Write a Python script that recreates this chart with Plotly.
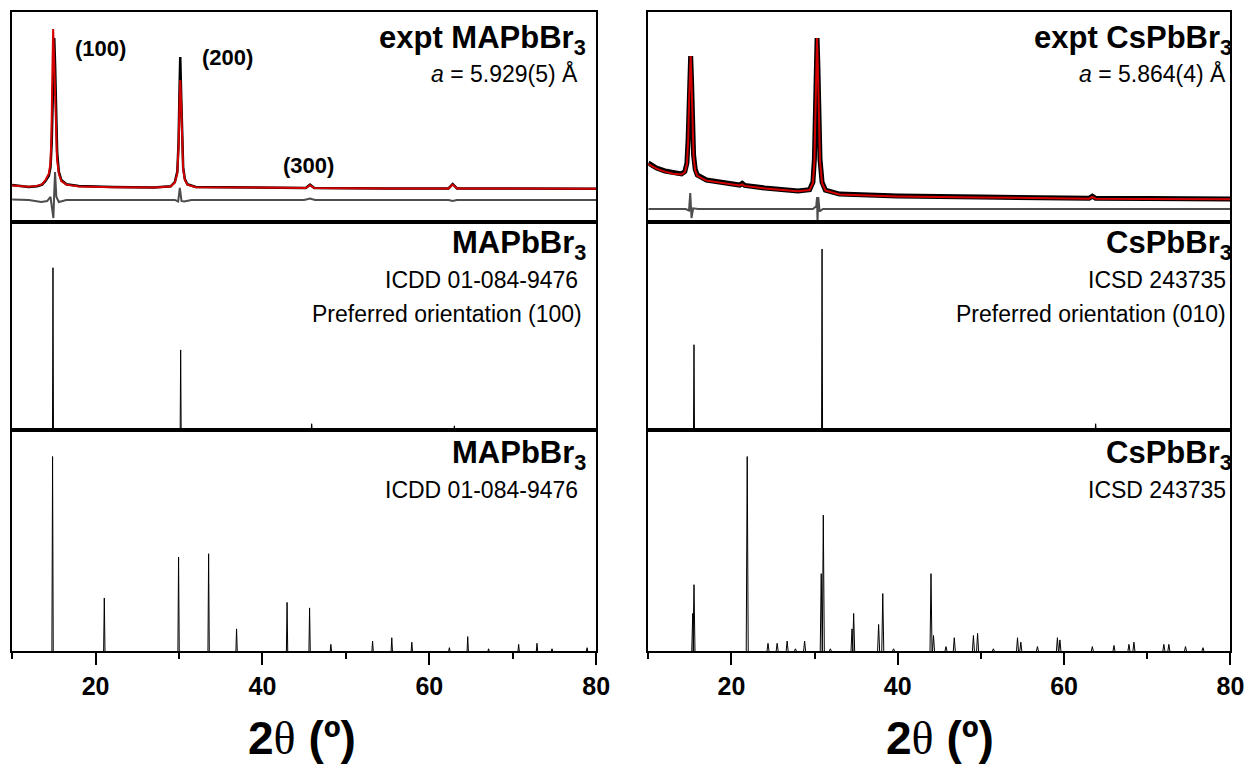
import plotly.graph_objects as go

# ---------------- data ----------------
# experimental MAPbBr3 (observed, calculated, difference)
mapb_obs_x = [10, 11, 12, 13, 13.6, 14.0, 14.4, 14.6, 14.75, 14.85, 14.95, 15.05, 15.15, 15.25, 15.4, 15.6, 15.9, 16.5, 18, 22, 27, 29, 29.5, 29.8, 29.95, 30.05, 30.15, 30.25, 30.35, 30.5, 30.7, 31.0, 32, 40, 45.2, 45.7, 46.2, 55, 62.3, 62.8, 63.3, 70, 80]
mapb_obs_y = [17.6, 17.1, 16.7, 17.0, 17.8, 19.5, 22.0, 26.0, 38.0, 55.0, 78.0, 87.6, 75.0, 52.0, 33.0, 24.0, 20.0, 18.0, 17.1, 16.7, 16.4, 17.0, 19.0, 24.0, 38.0, 60.0, 78.6, 62.0, 42.0, 26.0, 20.5, 18.0, 16.7, 16.2, 16.2, 17.8, 16.2, 16.0, 16.0, 18.1, 16.0, 16.0, 15.8]
mapb_calc_x = [10, 11, 12, 13, 13.6, 14.0, 14.4, 14.6, 14.72, 14.82, 14.92, 15.02, 15.12, 15.22, 15.38, 15.6, 15.9, 16.5, 18, 22, 27, 29, 29.5, 29.8, 29.95, 30.05, 30.15, 30.25, 30.35, 30.5, 30.7, 31.0, 32, 40, 45.2, 45.7, 46.2, 55, 62.3, 62.8, 63.3, 70, 80]
mapb_calc_y = [17.4, 17.0, 16.8, 17.2, 18.0, 20.0, 23.0, 28.0, 42.0, 70.0, 91.9, 80.0, 62.0, 45.0, 30.0, 23.0, 19.5, 17.8, 16.9, 16.6, 16.4, 16.9, 18.8, 23.0, 36.0, 55.0, 67.6, 58.0, 40.0, 25.0, 20.0, 17.8, 16.6, 16.2, 16.2, 17.5, 16.2, 16.0, 16.0, 17.8, 16.0, 16.0, 15.8]
mapb_diff_x = [10, 12, 13.5, 14.2, 14.6, 14.85, 14.95, 15.05, 15.15, 15.3, 15.6, 16.5, 20, 29.5, 29.9, 30.1, 30.3, 30.6, 31.5, 45, 45.7, 46.3, 62.3, 62.8, 63.3, 80]
mapb_diff_y = [10.7, 10.5, 9.5, 10.0, 12.0, 6.0, 1.9, 14.0, 23.8, 12.0, 9.5, 10.5, 10.5, 10.5, 9.8, 16.2, 10.0, 9.8, 10.5, 10.5, 11.2, 10.5, 10.5, 10.0, 10.5, 10.5]

# experimental CsPbBr3
cspb_obs_x = [10, 11, 12, 13, 14.0, 14.4, 14.65, 14.8, 14.92, 15.02, 15.1, 15.2, 15.3, 15.45, 15.65, 15.9, 17, 20, 21.0, 21.3, 21.6, 24, 28, 29.4, 29.8, 29.98, 30.1, 30.2, 30.3, 30.4, 30.5, 30.65, 30.9, 31.3, 33, 40, 50, 60, 63.0, 63.4, 63.8, 70, 80]
cspb_obs_y = [28.1, 25.7, 24.3, 23.3, 22.9, 24.0, 28.0, 40.0, 60.0, 75.0, 79.0, 68.0, 48.0, 32.0, 25.0, 22.4, 20.0, 18.1, 17.6, 18.4, 17.4, 16.2, 14.8, 15.4, 19.0, 30.0, 52.0, 76.0, 87.6, 74.0, 50.0, 30.0, 19.0, 15.2, 13.3, 12.4, 11.9, 11.4, 11.3, 12.3, 11.3, 11.2, 11.0]
cspb_calc_y = [27.6, 25.4, 24.0, 23.0, 22.6, 23.7, 27.5, 39.0, 59.0, 75.0, 79.0, 67.0, 47.0, 31.0, 24.5, 22.0, 19.7, 17.8, 17.4, 17.9, 17.2, 16.0, 14.6, 15.2, 18.6, 29.0, 51.0, 76.0, 87.6, 73.0, 49.0, 29.0, 18.6, 15.0, 13.1, 12.2, 11.7, 11.2, 11.1, 12.0, 11.1, 11.0, 10.8]
cspb_diff_x = [10, 14.5, 14.9, 15.05, 15.2, 15.4, 16, 29.8, 30.2, 30.3, 30.35, 30.45, 30.6, 31, 80]
cspb_diff_y = [6.2, 6.2, 5.5, 13.8, 1.9, 6.5, 6.2, 6.2, 7.5, 11.9, 0.0, 11.9, 5.0, 6.2, 6.2]

# reference stick patterns (2theta, relative intensity)
mapb_po_pos = [14.9, 30.2, 45.9, 63.0]
mapb_po_int = [78, 38.5, 3, 2]
cspb_po_pos = [15.5, 30.9, 63.8]
cspb_po_int = [41, 87, 3]
mapb_ref_pos = [14.85, 21.05, 29.95, 33.55, 36.9, 42.95, 45.65, 48.2, 53.2, 55.5, 57.9, 62.4, 64.6, 67.1, 70.7, 72.9, 74.7, 78.9]
mapb_ref_int = [88, 24, 42.5, 44, 10, 22, 19.5, 3, 4.5, 6, 4, 1.5, 6.5, 1, 3, 3.5, 1, 1.5]
cspb_ref_pos = [15.35, 15.5, 21.9, 24.4, 25.5, 26.7, 27.7, 28.8, 30.8, 31.05, 31.9, 34.5, 34.7, 37.7, 38.2, 39.5, 44.0, 44.3, 45.8, 46.8, 49.1, 49.6, 51.5, 54.4, 54.8, 56.8, 59.2, 59.5, 63.4, 66.0, 67.8, 68.4, 72.0, 72.6, 74.6, 76.7]
cspb_ref_int = [17, 30, 88, 3.5, 3.5, 4.5, 1, 4.5, 35, 61.5, 1, 10, 17, 12, 26, 1, 35, 7, 2, 6, 7, 8, 1, 6, 4, 2, 6, 5, 2, 2.5, 3, 4, 3, 3, 2, 1.5]

# ---------------- helpers ----------------
OFF = 8                      # default page body margin
W, H = 1244, 762
KX = 0.9885                  # observed horizontal scale of the captured page


def fx(px):
    return (px / KX - OFF) / W


def fy(py):
    return 1 - (py - OFF) / H


def sticks(pos, inten, hw=0.09):
    xs, ys = [], []
    for p, h in zip(pos, inten):
        xs += [p - hw, p, p + hw, None]
        ys += [0, h, 0, None]
    return xs, ys


FONT = "Arial, Liberation Sans, sans-serif"
BLACK = "#000000"
RED = "#d40000"
GREY = "#4d4d4d"

fig = go.Figure()

# panel 1: expt MAPbBr3
fig.add_trace(go.Scatter(x=mapb_obs_x, y=mapb_obs_y, mode="lines", line=dict(color=BLACK, width=2.5), xaxis="x", yaxis="y"))
fig.add_trace(go.Scatter(x=mapb_calc_x, y=mapb_calc_y, mode="lines", line=dict(color=RED, width=2), xaxis="x", yaxis="y"))
fig.add_trace(go.Scatter(x=mapb_diff_x, y=mapb_diff_y, mode="lines", line=dict(color=GREY, width=2), xaxis="x", yaxis="y"))
# panel 2: MAPbBr3 preferred orientation
sx, sy = sticks(mapb_po_pos, mapb_po_int, 0.06)
fig.add_trace(go.Scatter(x=sx, y=sy, mode="lines", line=dict(color=BLACK, width=1), xaxis="x2", yaxis="y2"))
# panel 3: MAPbBr3 reference
sx, sy = sticks(mapb_ref_pos, mapb_ref_int, 0.08)
fig.add_trace(go.Scatter(x=sx, y=sy, mode="lines", line=dict(color=BLACK, width=1), xaxis="x3", yaxis="y3"))
# panel 4: expt CsPbBr3
fig.add_trace(go.Scatter(x=cspb_obs_x, y=cspb_obs_y, mode="lines", line=dict(color=BLACK, width=5), xaxis="x4", yaxis="y4"))
fig.add_trace(go.Scatter(x=cspb_obs_x, y=cspb_calc_y, mode="lines", line=dict(color=RED, width=2), xaxis="x4", yaxis="y4"))
fig.add_trace(go.Scatter(x=cspb_diff_x, y=cspb_diff_y, mode="lines", line=dict(color=GREY, width=2), xaxis="x4", yaxis="y4"))
# panel 5: CsPbBr3 preferred orientation
sx, sy = sticks(cspb_po_pos, cspb_po_int, 0.06)
fig.add_trace(go.Scatter(x=sx, y=sy, mode="lines", line=dict(color=BLACK, width=1), xaxis="x5", yaxis="y5"))
# panel 6: CsPbBr3 reference
sx, sy = sticks(cspb_ref_pos, cspb_ref_int, 0.12)
fig.add_trace(go.Scatter(x=sx, y=sy, mode="lines", line=dict(color=BLACK, width=1), xaxis="x6", yaxis="y6"))

col_dom = [[fx(12), fx(596)], [fx(648), fx(1230)]]
row_dom = [[fy(222), fy(12)], [fy(430), fy(222)], [fy(651), fy(430)]]

layout = dict(
    width=W, height=H, autosize=False, margin=dict(l=0, r=0, t=0, b=0),
    paper_bgcolor="white", plot_bgcolor="white", showlegend=False,
    font=dict(family=FONT, color="black"),
)
for i in range(6):
    col = i // 3
    row = i % 3
    n = "" if i == 0 else str(i + 1)
    xa = dict(domain=col_dom[col], range=[10, 80], anchor="y" + n, showline=True, mirror=True,
              linecolor="black", linewidth=2, showgrid=False, zeroline=False, fixedrange=True)
    if row == 2:
        xa.update(ticks="outside", ticklen=12, tickwidth=2, tickcolor="black",
                  tickmode="linear", tick0=0, dtick=20, showticklabels=True,
                  tickfont=dict(size=25, family=FONT, color="black", weight="bold"),
                  minor=dict(tickmode="linear", tick0=0, dtick=10, ticks="outside", ticklen=6,
                             tickwidth=2, tickcolor="black", showgrid=False))
    else:
        xa.update(showticklabels=False, ticks="")
    ya = dict(domain=row_dom[row], range=[0, 100], anchor="x" + n, showline=True, mirror=True,
              linecolor="black", linewidth=2, showgrid=False, zeroline=False, showticklabels=False,
              ticks="", fixedrange=True)
    layout["xaxis" + n] = xa
    layout["yaxis" + n] = ya

fig.update_layout(**layout)

ann = []


def text(s, x, y, size, anchor="right", bold=False):
    if bold:
        s = "<b>" + s + "</b>"
    ann.append(dict(text=s, x=fx(x), y=fy(y), xref="paper", yref="paper", xanchor=anchor, yanchor="middle",
                    showarrow=False, font=dict(size=size, family=FONT, color="black")))


TS = 31
SS = 23
text("expt MAPbBr<sub>3</sub>", 588, 40, TS, bold=True)
text("<i>a</i> = 5.929(5) Å", 580, 73, SS)
text("(100)", 100, 49, 22, anchor="center", bold=True)
text("(200)", 227, 58, 22, anchor="center", bold=True)
text("(300)", 308, 165, 22, anchor="center", bold=True)
text("MAPbBr<sub>3</sub>", 588, 245, TS, bold=True)
text("ICDD 01-084-9476", 580, 280, SS)
text("Preferred orientation (100)", 584, 314, SS)
text("MAPbBr<sub>3</sub>", 588, 455, TS, bold=True)
text("ICDD 01-084-9476", 580, 490, SS)

text("expt CsPbBr<sub>3</sub>", 1234, 40, TS, bold=True)
text("<i>a</i> = 5.864(4) Å", 1228, 73, SS)
text("CsPbBr<sub>3</sub>", 1234, 245, TS, bold=True)
text("ICSD 243735", 1228, 280, SS)
text("Preferred orientation (010)", 1228, 314, SS)
text("CsPbBr<sub>3</sub>", 1234, 455, TS, bold=True)
text("ICSD 243735", 1228, 490, SS)

axis_title = "<b>2</b><span style=\"font-family:'Liberation Serif', 'Times New Roman', serif\">θ</span><b> (º)</b>"
text(axis_title, 302, 738, 46, anchor="center")
text(axis_title, 940, 738, 46, anchor="center")

fig.update_layout(annotations=ann)
fig.write_html("out.html", config={"responsive": False})
